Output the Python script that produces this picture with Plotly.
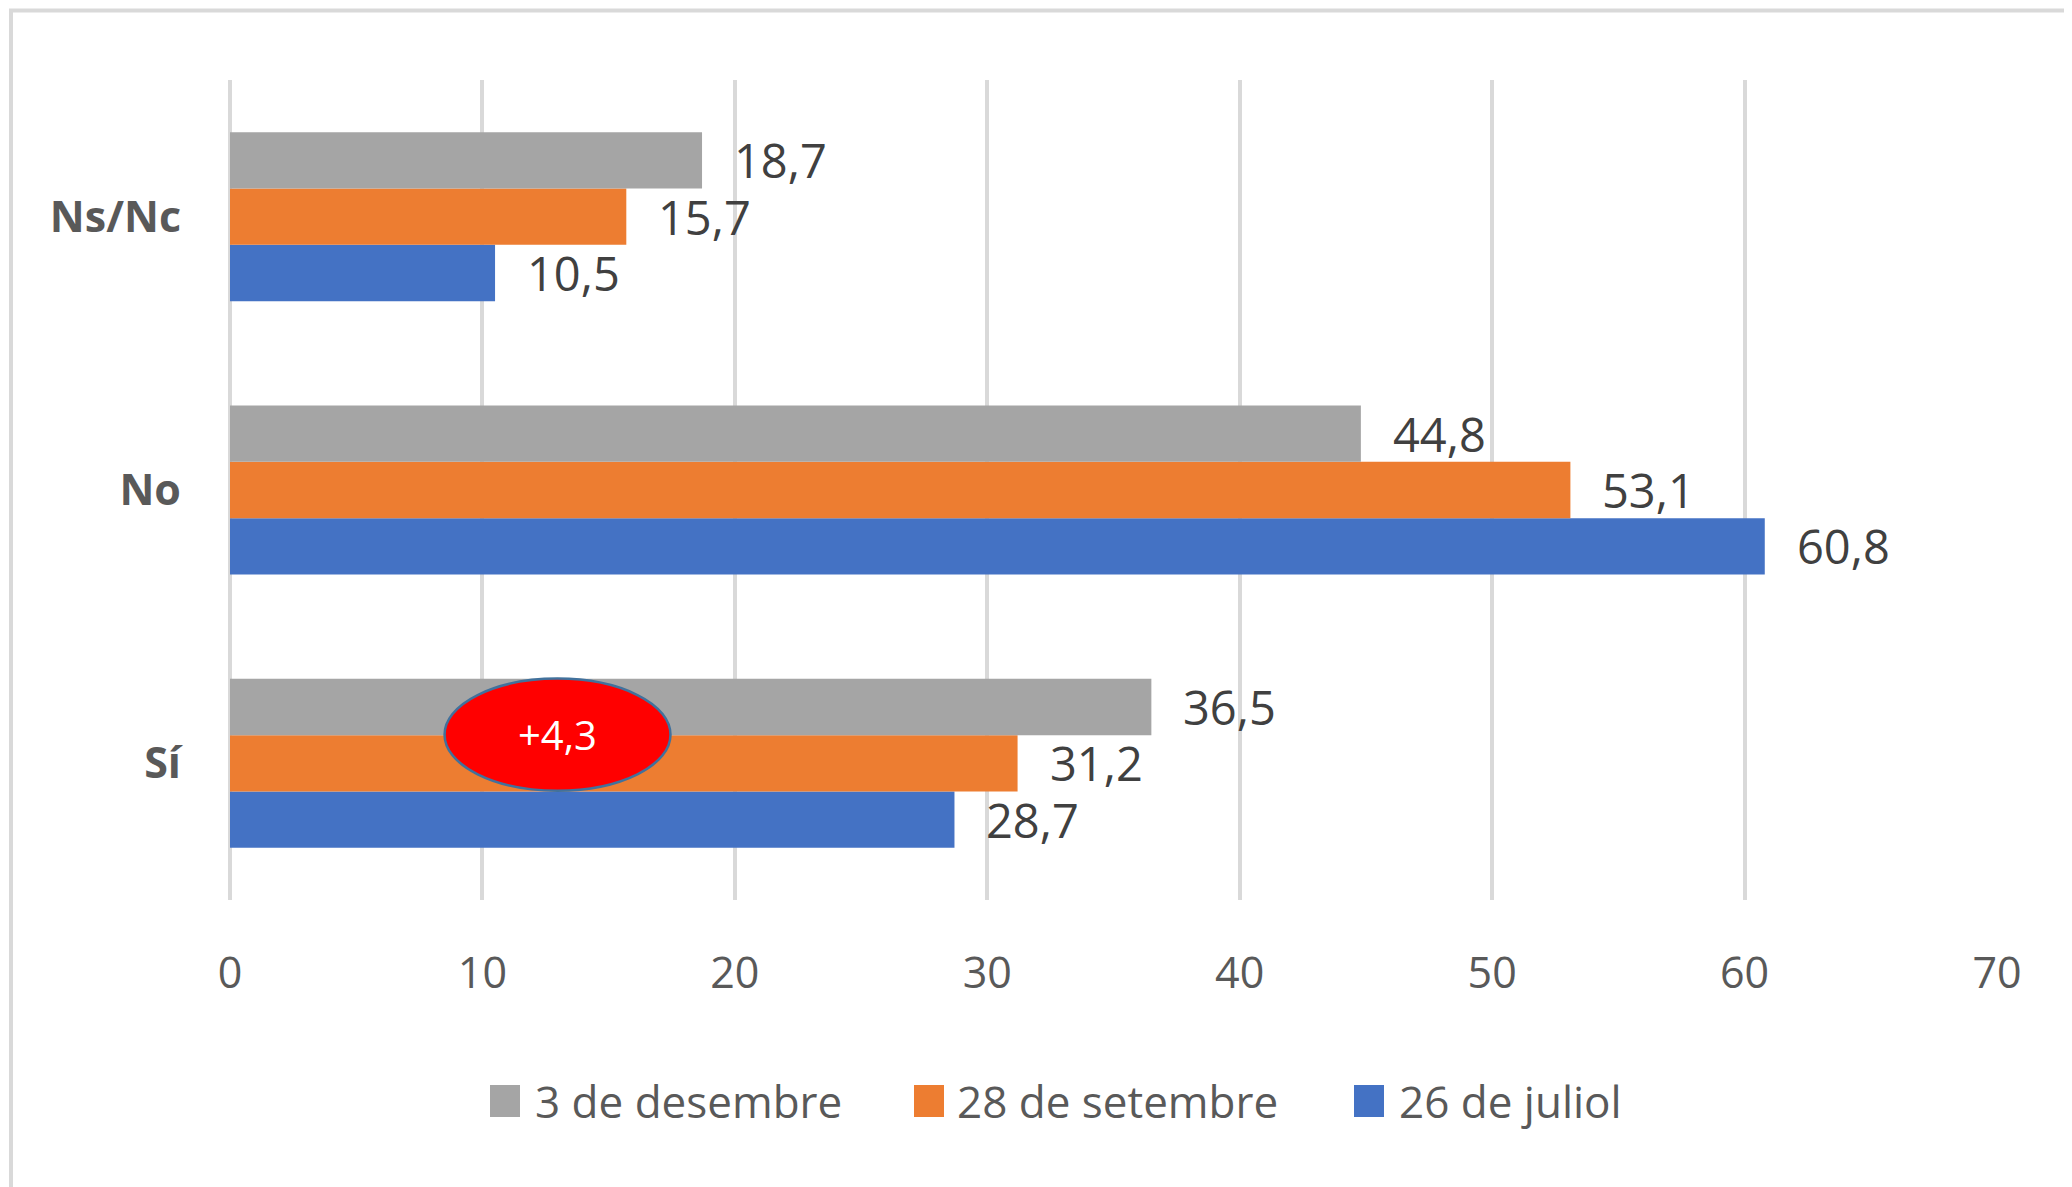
import plotly.graph_objects as go

categories = ["Sí", "No", "Ns/Nc"]
series_names = ["26 de juliol", "28 de setembre", "3 de desembre"]
juliol = [28.7, 60.8, 10.5]
setembre = [31.2, 53.1, 15.7]
desembre = [36.5, 44.8, 18.7]
series_values = [juliol, setembre, desembre]
series_colors = ["#4472C4", "#ED7D31", "#A5A5A5"]
x_ticks = [0, 10, 20, 30, 40, 50, 60, 70]
badge_text = "+4,3"

FONT = "Open Sans"

# page layout (pixels); page body has an 8px offset
OFF = 8
W, H = 2072, 1187
L, R, T, B = 230, 1997, 80, 900  # plot area in page pixels


def px_x(p):
    return (p - L) / (R - L)


def px_y(q):
    return (B - q) / (B - T)


def fmt(v):
    return f"{v:.1f}".replace(".", ",")


fig = go.Figure()
for name, vals, col in zip(series_names, series_values, series_colors):
    fig.add_trace(go.Bar(
        y=categories, x=vals, orientation="h", name=name,
        marker=dict(color=col, line=dict(width=0)),
        showlegend=False, hoverinfo="x+name",
    ))

# data labels (offset annotations)
n = len(series_names)
group_w = 0.618
bw = group_w / n
for i, vals in enumerate(series_values):
    off = -group_w / 2 + bw * (i + 0.5)
    for j, v in enumerate(vals):
        fig.add_annotation(
            x=v, y=j + off, xref="x", yref="y",
            text=fmt(v), showarrow=False, xanchor="left", yanchor="middle",
            xshift=30, font=dict(family=FONT, size=47, color="#404040"),
        )

# red ellipse badge
fig.add_shape(type="circle", xref="x", yref="y",
              x0=8.5, x1=17.45, y0=-0.10, y1=0.31,
              fillcolor="#FF0000", line=dict(color="#41719C", width=2.5), layer="above")
fig.add_annotation(x=12.97, y=0.105, xref="x", yref="y", text=badge_text,
                   showarrow=False, font=dict(family=FONT, size=40, color="white"))

# outer chart border (left and top visible)
fig.add_shape(type="rect", xref="paper", yref="paper",
              x0=px_x(11), x1=px_x(2200), y0=px_y(1300), y1=px_y(10.5),
              line=dict(color="#D9D9D9", width=4), fillcolor="rgba(0,0,0,0)", layer="below")

# custom legend (order left to right)
legend_items = [
    ("3 de desembre", "#A5A5A5", 490, 533),
    ("28 de setembre", "#ED7D31", 914, 955),
    ("26 de juliol", "#4472C4", 1354, 1397),
]
for label, col, sx, tx in legend_items:
    fig.add_shape(type="rect", xref="paper", yref="paper",
                  x0=px_x(sx), x1=px_x(sx + 30), y0=px_y(1117), y1=px_y(1085),
                  fillcolor=col, line=dict(width=0))
    fig.add_annotation(xref="paper", yref="paper", x=px_x(tx), y=px_y(1101),
                       text=label, showarrow=False, xanchor="left", yanchor="middle",
                       font=dict(family=FONT, size=44, color="#595959"))

fig.update_layout(
    width=W, height=H,
    margin=dict(l=L - OFF, r=W - (R - OFF), t=T - OFF, b=H - (B - OFF)),
    paper_bgcolor="white", plot_bgcolor="white",
    barmode="group", bargap=1 - group_w, bargroupgap=0,
    font=dict(family=FONT, color="#595959"),
    xaxis=dict(range=[0, 70], tickvals=x_ticks, ticktext=[str(t) for t in x_ticks],
               showgrid=True, gridcolor="#D9D9D9", gridwidth=3.5,
               zeroline=True, zerolinecolor="#D9D9D9", zerolinewidth=3.5,
               showline=False, ticks="", ticklabelstandoff=44,
               tickfont=dict(family=FONT, size=43, color="#595959"), fixedrange=True),
    yaxis=dict(categoryorder="array", categoryarray=categories, range=[-0.5, 2.5],
               showgrid=False, zeroline=False, showline=False, ticks="",
               ticklabelstandoff=48,
               tickfont=dict(family=FONT, size=43, color="#595959", weight="bold")),
    showlegend=False,
)

fig.write_html("out.html")
